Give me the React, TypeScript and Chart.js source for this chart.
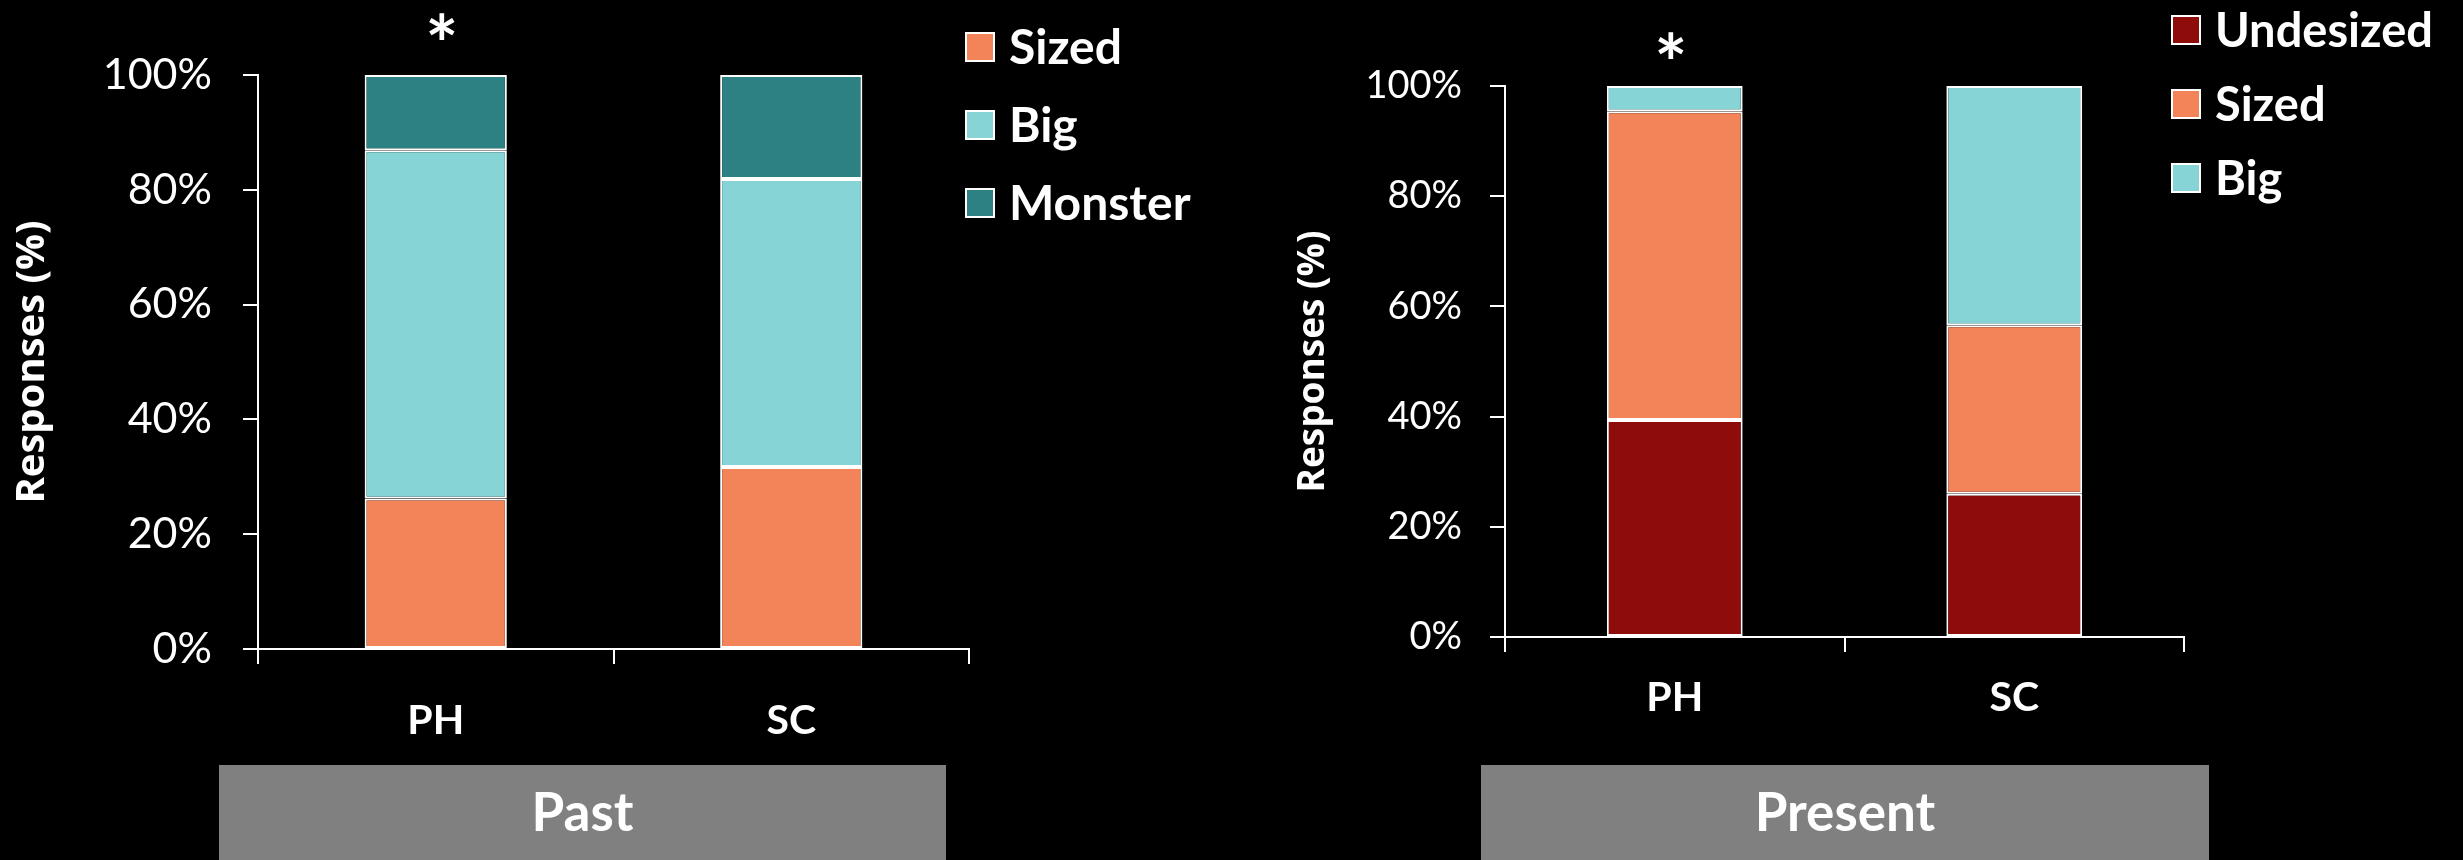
import React, { useEffect, useRef } from "react";
import { Chart, registerables } from "chart.js";

Chart.register(...registerables);

// ---- data ----
const categories = ["PH", "SC"];
const yTickValues = [0, 20, 40, 60, 80, 100];

// Past responses (% of respondents)
const pastSized = [26.2, 31.7];
const pastBig = [60.7, 50.2];
const pastMonster = [13.1, 18.1];
const pastMarks = ["*", ""];

// Present responses (% of respondents)
const presentUndesized = [39.4, 26.0];
const presentSized = [56.0, 30.6];
const presentBig = [4.6, 43.4];
const presentMarks = ["*", ""];

const panelTitles = ["Past", "Present"];
const axisTitle = "Responses (%)";

// ---- styling ----
const COLORS = {
  undesized: "#8E0C09",
  sized: "#F38459",
  big: "#86D4D5",
  monster: "#2E8183",
};

type LegendOpts = { x: number; y: number; gap: number; box: number; font: string };
type MarkOpts = { font: string; center: number; dx: number; marks: string[] };

// Legend drawn beside the plot, one row per dataset in series order
const sideLegend = {
  id: "sideLegend",
  afterDraw(chart: any, _args: any, opts: LegendOpts) {
    const ctx = chart.ctx as CanvasRenderingContext2D;
    const items = chart.data.datasets;
    ctx.save();
    ctx.font = opts.font;
    ctx.textBaseline = "middle";
    ctx.textAlign = "left";
    items.forEach((ds: any, i: number) => {
      const cy = opts.y + i * opts.gap;
      ctx.fillStyle = ds.backgroundColor;
      ctx.fillRect(opts.x, cy - opts.box / 2, opts.box, opts.box);
      ctx.strokeStyle = "#ffffff";
      ctx.lineWidth = 2;
      ctx.strokeRect(opts.x + 1, cy - opts.box / 2 + 1, opts.box - 2, opts.box - 2);
      ctx.fillStyle = "#ffffff";
      ctx.fillText(ds.label, opts.x + opts.box + 14, cy + 2);
    });
    ctx.restore();
  },
};

// Significance marks above the bars; the glyph is centred on the given height
const barMarks = {
  id: "barMarks",
  afterDatasetsDraw(chart: any, _args: any, opts: MarkOpts) {
    const ctx = chart.ctx as CanvasRenderingContext2D;
    const xs = chart.scales.x;
    ctx.save();
    ctx.font = opts.font;
    ctx.fillStyle = "#ffffff";
    ctx.textAlign = "center";
    ctx.textBaseline = "alphabetic";
    opts.marks.forEach((m, i) => {
      if (!m) return;
      const mt = ctx.measureText(m);
      const asc = mt.actualBoundingBoxAscent;
      const desc = mt.actualBoundingBoxDescent;
      const baseline = opts.center + (asc - desc) / 2;
      ctx.fillText(m, xs.getPixelForValue(i) + opts.dx, baseline);
    });
    ctx.restore();
  },
};

type Series = { label: string; data: number[]; color: string };

type PanelSpec = {
  series: Series[];
  marks: string[];
  width: number;
  height: number;
  axisWidth: number;
  axisHeight: number;
  padTop: number;
  padRight: number;
  titleSize: number;
  titlePad: number;
  tickSize: number;
  tickPad: number;
  catSize: number;
  catPad: number;
  legend: LegendOpts;
  markCenter: number;
  markDx: number;
};

function BarPanel({ spec }: { spec: PanelSpec }) {
  const ref = useRef<HTMLCanvasElement | null>(null);

  useEffect(() => {
    if (!ref.current) return;
    const chart = new Chart(ref.current, {
      type: "bar",
      data: {
        labels: categories,
        datasets: spec.series.map((s) => ({
          label: s.label,
          data: s.data,
          backgroundColor: s.color,
          borderColor: "#ffffff",
          borderWidth: 2,
          borderSkipped: false,
          barPercentage: 0.4,
          categoryPercentage: 1,
        })),
      },
      options: {
        responsive: false,
        animation: false,
        devicePixelRatio: 1,
        layout: { padding: { top: spec.padTop, right: spec.padRight, left: 0, bottom: 0 } },
        plugins: {
          legend: { display: false },
          tooltip: { enabled: false },
          sideLegend: spec.legend,
          barMarks: { font: "bold 78px Lato", center: spec.markCenter, dx: spec.markDx, marks: spec.marks },
        } as any,
        scales: {
          x: {
            stacked: true,
            grid: {
              offset: true,
              drawOnChartArea: false,
              drawTicks: true,
              tickLength: 15,
              color: "#ffffff",
              lineWidth: 2,
            },
            border: { display: true, color: "#ffffff", width: 2 },
            ticks: {
              color: "#ffffff",
              padding: spec.catPad,
              font: { family: "Lato", weight: "bold", size: spec.catSize },
            },
            afterFit: (scale: any) => {
              scale.height = spec.axisHeight;
            },
          },
          y: {
            stacked: true,
            min: 0,
            max: 100,
            afterBuildTicks: (scale: any) => {
              scale.ticks = yTickValues.map((v) => ({ value: v }));
            },
            grid: {
              drawOnChartArea: false,
              drawTicks: true,
              tickLength: 15,
              color: "#ffffff",
              lineWidth: 2,
            },
            border: { display: true, color: "#ffffff", width: 2 },
            ticks: {
              color: "#ffffff",
              padding: spec.tickPad,
              font: { family: "Lato", size: spec.tickSize },
              callback: (v: any) => `${v}%`,
            },
            title: {
              display: true,
              text: axisTitle,
              color: "#ffffff",
              font: { family: "Open Sans", weight: "bold", size: spec.titleSize },
              padding: { top: spec.titlePad, bottom: 0 },
            },
            afterFit: (scale: any) => {
              scale.width = spec.axisWidth;
            },
          },
        },
      },
      plugins: [sideLegend, barMarks],
    } as any);
    return () => chart.destroy();
  }, [spec]);

  return (
    <canvas
      ref={ref}
      width={spec.width}
      height={spec.height}
      style={{ width: spec.width, height: spec.height, display: "block" }}
    />
  );
}

const pastSpec: PanelSpec = {
  series: [
    { label: "Sized", data: pastSized, color: COLORS.sized },
    { label: "Big", data: pastBig, color: COLORS.big },
    { label: "Monster", data: pastMonster, color: COLORS.monster },
  ],
  marks: pastMarks,
  width: 1250,
  height: 760,
  axisWidth: 258,
  axisHeight: 111,
  padTop: 75,
  padRight: 281,
  titleSize: 40,
  titlePad: 9,
  tickSize: 43,
  tickPad: 31,
  catSize: 41,
  catPad: 32,
  legend: { x: 965, y: 47, gap: 78, box: 30, font: "bold 48px Lato" },
  markCenter: 26,
  markDx: 6,
};

const presentSpec: PanelSpec = {
  series: [
    { label: "Undesized", data: presentUndesized, color: COLORS.undesized },
    { label: "Sized", data: presentSized, color: COLORS.sized },
    { label: "Big", data: presentBig, color: COLORS.big },
  ],
  marks: presentMarks,
  width: 1213,
  height: 760,
  axisWidth: 255,
  axisHeight: 123,
  padTop: 86,
  padRight: 279,
  titleSize: 37,
  titlePad: 41,
  tickSize: 38,
  tickPad: 28,
  catSize: 41,
  catPad: 21,
  legend: { x: 921, y: 30, gap: 74, box: 30, font: "bold 47px Lato" },
  markCenter: 45,
  markDx: -4,
};

const bandStyle: React.CSSProperties = {
  position: "absolute",
  top: 765,
  height: 95,
  background: "#808080",
  color: "#ffffff",
  fontFamily: "Lato",
  fontWeight: 700,
  fontSize: 53,
  display: "flex",
  alignItems: "center",
  justifyContent: "center",
  paddingBottom: 4,
  boxSizing: "border-box",
};

export default function App() {
  return (
    <div
      style={{
        position: "absolute",
        left: 0,
        top: 0,
        width: 2463,
        height: 860,
        background: "#000000",
        overflow: "hidden",
      }}
    >
      <div style={{ position: "absolute", left: 0, top: 0 }}>
        <BarPanel spec={pastSpec} />
      </div>
      <div style={{ position: "absolute", left: 1250, top: 0 }}>
        <BarPanel spec={presentSpec} />
      </div>
      <div style={{ ...bandStyle, left: 219, width: 727 }}>{panelTitles[0]}</div>
      <div style={{ ...bandStyle, left: 1481, width: 728 }}>{panelTitles[1]}</div>
    </div>
  );
}
